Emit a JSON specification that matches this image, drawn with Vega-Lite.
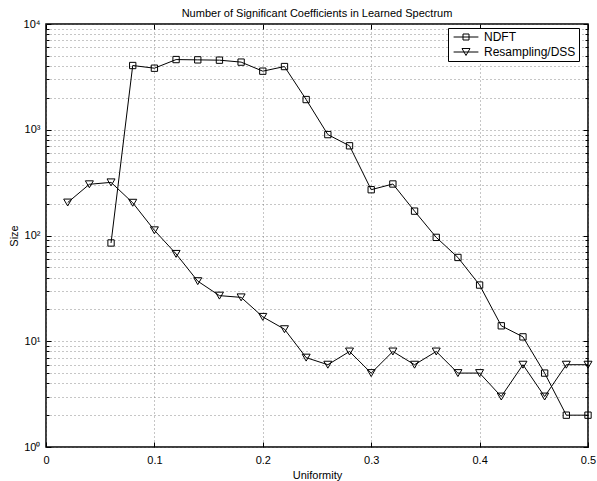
{
  "$schema": "https://vega.github.io/schema/vega-lite/v6.json",
  "width": 542,
  "height": 423,
  "autosize": "none",
  "padding": {"left": 46, "top": 24, "right": 9, "bottom": 34},
  "background": "white",
  "config": {
    "font": "Liberation Sans",
    "view": {"stroke": "black", "strokeWidth": 1.5},
    "axis": {
      "domain": false,
      "labelFont": "Liberation Sans",
      "labelFontSize": 11,
      "labelColor": "black",
      "titleFont": "Liberation Sans",
      "titleFontSize": 11,
      "titleFontWeight": "normal",
      "titleColor": "black",
      "tickColor": "black",
      "tickWidth": 1,
      "gridColor": "#666",
      "gridDash": [1, 3],
      "gridWidth": 1,
      "gridOpacity": 0.75,
      "labelOverlap": false,
      "labelFlush": false
    }
  },
  "title": {
    "text": "Number of Significant Coefficients in Learned Spectrum",
    "fontSize": 11,
    "fontWeight": "normal",
    "font": "Liberation Sans",
    "color": "black",
    "offset": -1
  },
  "data": {
    "values": [
      {"u": 0.06, "size": 85, "series": "NDFT"},
      {"u": 0.08, "size": 4050, "series": "NDFT"},
      {"u": 0.10, "size": 3820, "series": "NDFT"},
      {"u": 0.12, "size": 4610, "series": "NDFT"},
      {"u": 0.14, "size": 4580, "series": "NDFT"},
      {"u": 0.16, "size": 4550, "series": "NDFT"},
      {"u": 0.18, "size": 4360, "series": "NDFT"},
      {"u": 0.20, "size": 3580, "series": "NDFT"},
      {"u": 0.22, "size": 3960, "series": "NDFT"},
      {"u": 0.24, "size": 1930, "series": "NDFT"},
      {"u": 0.26, "size": 900, "series": "NDFT"},
      {"u": 0.28, "size": 705, "series": "NDFT"},
      {"u": 0.30, "size": 271, "series": "NDFT"},
      {"u": 0.32, "size": 307, "series": "NDFT"},
      {"u": 0.34, "size": 170, "series": "NDFT"},
      {"u": 0.36, "size": 96, "series": "NDFT"},
      {"u": 0.38, "size": 62, "series": "NDFT"},
      {"u": 0.40, "size": 34, "series": "NDFT"},
      {"u": 0.42, "size": 14, "series": "NDFT"},
      {"u": 0.44, "size": 11, "series": "NDFT"},
      {"u": 0.46, "size": 5, "series": "NDFT"},
      {"u": 0.48, "size": 2, "series": "NDFT"},
      {"u": 0.50, "size": 2, "series": "NDFT"},
      {"u": 0.02, "size": 205, "series": "Resampling/DSS"},
      {"u": 0.04, "size": 305, "series": "Resampling/DSS"},
      {"u": 0.06, "size": 318, "series": "Resampling/DSS"},
      {"u": 0.08, "size": 204, "series": "Resampling/DSS"},
      {"u": 0.10, "size": 112, "series": "Resampling/DSS"},
      {"u": 0.12, "size": 67, "series": "Resampling/DSS"},
      {"u": 0.14, "size": 37, "series": "Resampling/DSS"},
      {"u": 0.16, "size": 27, "series": "Resampling/DSS"},
      {"u": 0.18, "size": 26, "series": "Resampling/DSS"},
      {"u": 0.20, "size": 17, "series": "Resampling/DSS"},
      {"u": 0.22, "size": 13, "series": "Resampling/DSS"},
      {"u": 0.24, "size": 7, "series": "Resampling/DSS"},
      {"u": 0.26, "size": 6, "series": "Resampling/DSS"},
      {"u": 0.28, "size": 8, "series": "Resampling/DSS"},
      {"u": 0.30, "size": 5, "series": "Resampling/DSS"},
      {"u": 0.32, "size": 8, "series": "Resampling/DSS"},
      {"u": 0.34, "size": 6, "series": "Resampling/DSS"},
      {"u": 0.36, "size": 8, "series": "Resampling/DSS"},
      {"u": 0.38, "size": 5, "series": "Resampling/DSS"},
      {"u": 0.40, "size": 5, "series": "Resampling/DSS"},
      {"u": 0.42, "size": 3, "series": "Resampling/DSS"},
      {"u": 0.44, "size": 6, "series": "Resampling/DSS"},
      {"u": 0.46, "size": 3, "series": "Resampling/DSS"},
      {"u": 0.48, "size": 6, "series": "Resampling/DSS"},
      {"u": 0.50, "size": 6, "series": "Resampling/DSS"}
    ]
  },
  "resolve": {
    "scale": {"shape": "independent"},
    "axis": {"x": "independent", "y": "independent"}
  },
  "layer": [
    {
      "mark": {"type": "line", "color": "black", "strokeWidth": 1},
      "encoding": {
        "x": {
          "field": "u", "type": "quantitative",
          "scale": {"domain": [0, 0.5], "nice": false, "zero": false},
          "axis": {
            "orient": "bottom",
            "title": "Uniformity",
            "values": [0, 0.1, 0.2, 0.3, 0.4, 0.5],
            "labelExpr": "datum.value == 0 ? '0' : format(datum.value, '.1f')",
            "grid": true,
            "tickSize": -5,
            "labelPadding": 12,
            "titlePadding": 4
          }
        },
        "y": {
          "field": "size", "type": "quantitative",
          "scale": {"type": "log", "domain": [1, 10000], "nice": false},
          "axis": {
            "orient": "left",
            "title": "Size",
            "values": [1,2,3,4,5,6,7,8,9,10,20,30,40,50,60,70,80,90,100,200,300,400,500,600,700,800,900,1000,2000,3000,4000,5000,6000,7000,8000,9000,10000],
            "labelExpr": "datum.value == 1 ? '10⁰' : datum.value == 10 ? '10¹' : datum.value == 100 ? '10²' : datum.value == 1000 ? '10³' : datum.value == 10000 ? '10⁴' : ''",
            "grid": true,
            "tickSize": {"condition": {"test": "indexof([1,10,100,1000,10000], datum.value) >= 0", "value": -5}, "value": -3},
            "labelPadding": 11,
            "titlePadding": 4
          }
        },
        "detail": {"field": "series"}
      }
    },
    {
      "mark": {"type": "point", "filled": false, "stroke": "black", "strokeWidth": 1, "opacity": 1},
      "encoding": {
        "x": {"field": "u", "type": "quantitative", "axis": null},
        "y": {"field": "size", "type": "quantitative", "axis": null},
        "shape": {
          "field": "series", "type": "nominal",
          "scale": {"domain": ["NDFT", "Resampling/DSS"], "range": ["square", "triangle-down"]},
          "legend": null
        },
        "size": {
          "field": "series", "type": "nominal",
          "scale": {"domain": ["NDFT", "Resampling/DSS"], "range": [40, 64]},
          "legend": null
        }
      }
    },
    {
      "mark": {"type": "point", "filled": false, "stroke": "black", "strokeWidth": 1, "opacity": 0},
      "encoding": {
        "x": {
          "field": "u", "type": "quantitative",
          "axis": {
            "orient": "top", "title": null, "labels": false, "grid": false,
            "values": [0, 0.1, 0.2, 0.3, 0.4, 0.5], "tickSize": -5
          }
        },
        "y": {
          "field": "size", "type": "quantitative",
          "axis": {
            "orient": "right", "title": null, "labels": false, "grid": false,
            "values": [1,2,3,4,5,6,7,8,9,10,20,30,40,50,60,70,80,90,100,200,300,400,500,600,700,800,900,1000,2000,3000,4000,5000,6000,7000,8000,9000,10000],
            "tickSize": {"condition": {"test": "indexof([1,10,100,1000,10000], datum.value) >= 0", "value": -5}, "value": -3}
          }
        },
        "shape": {
          "field": "series", "type": "nominal",
          "scale": {
            "domain": ["NDFT", "Resampling/DSS"],
            "range": [
              "M-3.1,0L3.1,0M-0.75,-0.75L0.75,-0.75L0.75,0.75L-0.75,0.75Z",
              "M-3.1,0L3.1,0M-1,-0.87L1,-0.87L0,0.87Z"
            ]
          },
          "legend": {
            "title": null,
            "orient": "none",
            "legendX": 402,
            "legendY": 4,
            "strokeColor": "black",
            "fillColor": "white",
            "padding": 3,
            "symbolSize": 64,
            "symbolOffset": 9,
            "symbolOpacity": 1,
            "symbolStrokeColor": "black",
            "symbolFillColor": "transparent",
            "symbolStrokeWidth": 1,
            "labelOffset": 12,
            "labelFont": "Liberation Sans",
            "labelFontSize": 12,
            "labelColor": "black",
            "rowPadding": 3
          }
        }
      }
    }
  ]
}
